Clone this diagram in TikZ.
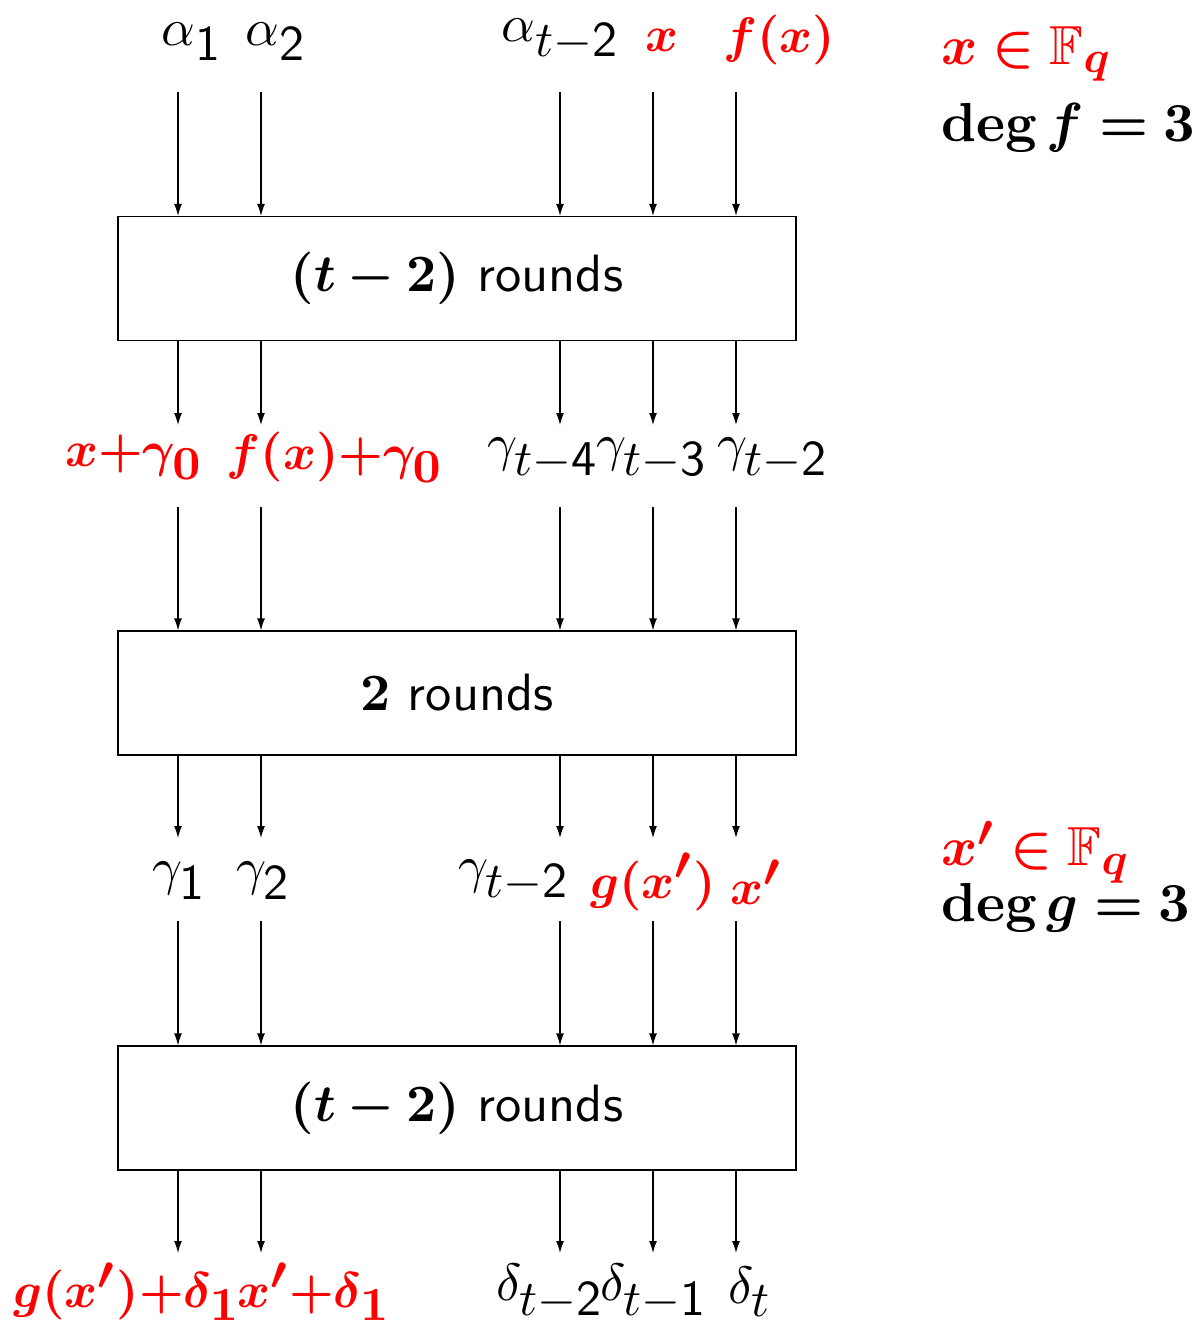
\documentclass[tikz,border=0pt]{standalone}
\usepackage{fix-cm}
\usepackage{amsmath}
\usepackage{amssymb}
\usepackage{bm}
\usepackage{xcolor}
\usepackage{tikz}
\usetikzlibrary{positioning,arrows.meta}
% large subscripts, as in the drawing
\DeclareMathSizes{10}{10}{9.5}{7}
\DeclareMathSizes{10.5}{10.5}{10}{7}
\DeclareMathSizes{11}{11}{9}{7}

\begin{document}
\begin{tikzpicture}[x=0.2pt, y=-0.2pt, >={Latex[length=2.4pt,width=1.6pt]},
  rnd/.style={draw, line width=0.25pt, minimum width=135.6pt, minimum height=24.8pt, inner sep=0pt, align=center, font=\fontsize{10.5}{12}\selectfont},
  lbl/.style={inner sep=0pt, font=\fontsize{10.5}{12}\selectfont},
  hot/.style={inner sep=0pt, text=red},
  info/.style={anchor=west, inner sep=0pt, font=\fontsize{11}{13}\selectfont},
  wire/.style={->, line width=0.25pt}]
\useasboundingbox (0,0) rectangle (1198,1320);
% the three blocks of rounds
\node[rnd] (b1) at (457,278.5) {$\bm{(t-2)}$ \textsf{rounds}};
\node[rnd] (b2) at (457,693) {$\bm{2}$ \textsf{rounds}};
\node[rnd] (b3) at (457,1108) {$\bm{(t-2)}$ \textsf{rounds}};
% wires: start points above each block, end points below it
\foreach \i/\x in {1/178,2/261,3/560,4/653,5/736} {
  \coordinate (in1-\i) at (\x,92);
  \coordinate (out1-\i) at (\x,425);
  \coordinate (in2-\i) at (\x,507);
  \coordinate (out2-\i) at (\x,838);
  \coordinate (in3-\i) at (\x,921);
  \coordinate (out3-\i) at (\x,1253);
  \draw[wire] (in1-\i) -- (in1-\i |- b1.north);
  \draw[wire] (b1.south -| out1-\i) -- (out1-\i);
  \draw[wire] (in2-\i) -- (in2-\i |- b2.north);
  \draw[wire] (b2.south -| out2-\i) -- (out2-\i);
  \draw[wire] (in3-\i) -- (in3-\i |- b3.north);
  \draw[wire] (b3.south -| out3-\i) -- (out3-\i);
}
% inputs
\node[lbl] (a1) at (192,42) {$\alpha_{\mathsf{1}}$};
\node[lbl] (a2) at (276,42) {$\alpha_{\mathsf{2}}$};
\node[lbl] (at) at (561,40) {$\alpha_{t-\mathsf{2}}$};
\node[hot] (x) at (662,40) {$\bm{x}$};
\node[hot] (fx) at (779,40) {$\bm{f(x)}$};
% after the first block
\node[hot] (xg) at (134,457) {$\bm{x{+}\gamma_0}$};
\node[hot] (fxg) at (335,457) {$\bm{f(x){+}\gamma_0}$};
\node[lbl] (g4) at (543,459) {$\gamma_{t-\mathsf{4}}$};
\node[lbl] (g3) at (652,459) {$\gamma_{t-\mathsf{3}}$};
\node[lbl] (g2) at (773,459) {$\gamma_{t-\mathsf{2}}$};
% after the middle block
\node[lbl] (c1) at (180,881) {$\gamma_{\mathsf{1}}$};
\node[lbl] (c2) at (264,881) {$\gamma_{\mathsf{2}}$};
\node[lbl] (ct) at (514,881) {$\gamma_{t-\mathsf{2}}$};
\node[hot] (gx) at (653,882) {$\bm{g(x')}$};
\node[hot] (xp) at (756,882) {$\bm{x'}$};
% outputs
\node[hot] (gxd) at (127,1292) {$\bm{g(x'){+}\delta_1}$};
\node[hot] (xd) at (314,1292) {$\bm{x'{+}\delta_1}$};
\node[lbl] (d2) at (550,1292) {$\delta_{t-\mathsf{2}}$};
\node[lbl] (d1) at (654,1292) {$\delta_{t-\mathsf{1}}$};
\node[lbl] (d0) at (750,1292) {$\delta_t$};
% side notes
\node[info, text=red] (fq1) at (940,54) {$\bm{x \in \mathbb{F}_q}$};
\node[info] (degf) at (940,128) {$\bm{\deg f = 3}$};
\node[info, text=red] (fq2) at (940,852) {$\bm{x' \in \mathbb{F}_q}$};
\node[info] (degg) at (940,908) {$\bm{\deg g = 3}$};
\end{tikzpicture}
\end{document}
